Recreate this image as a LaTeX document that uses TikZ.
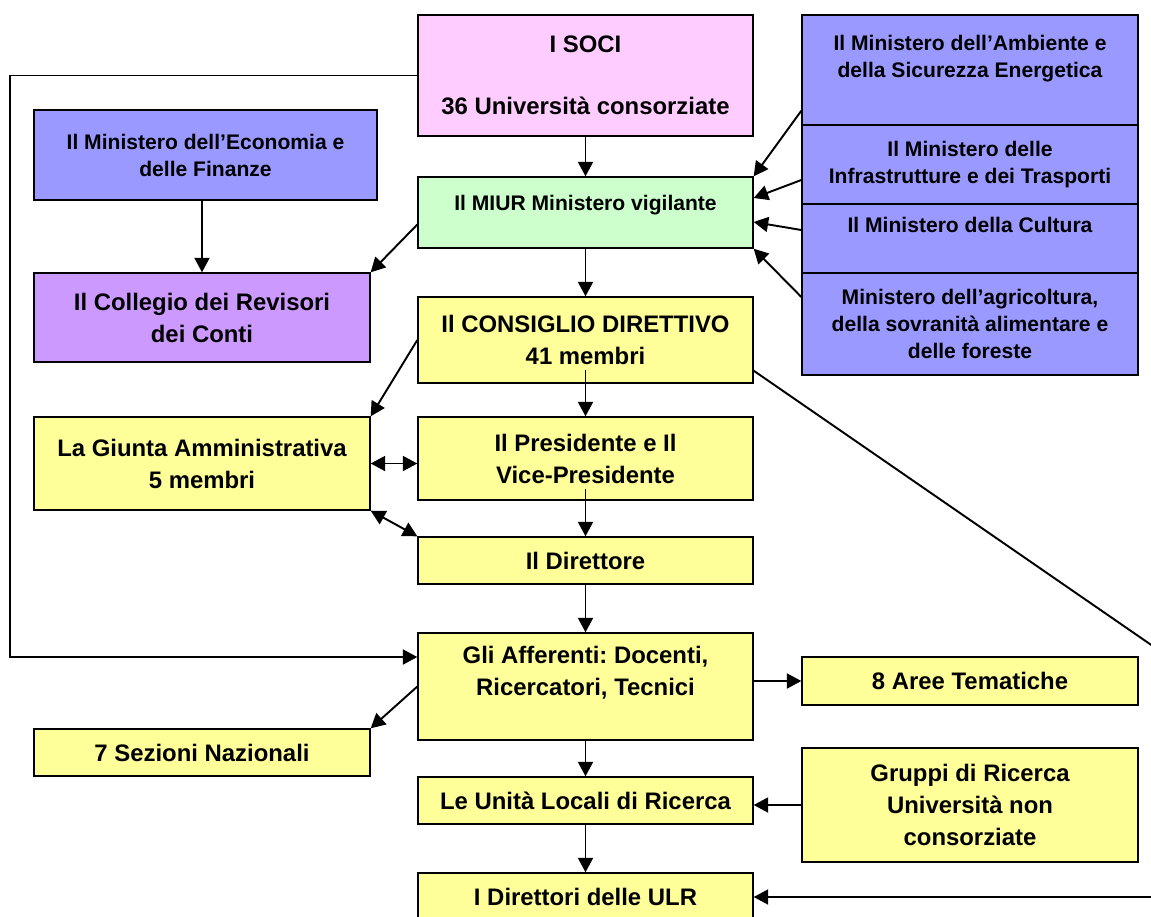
\documentclass[tikz,border=0pt]{standalone}
\usepackage{fontspec}
\setmainfont{Liberation Sans}
\usetikzlibrary{arrows.meta}
\frenchspacing

\begin{document}
\begin{tikzpicture}[x=0.02cm,y=-0.02cm,
  >={Triangle[length=0.29cm,width=0.3cm]},
  box/.style={draw=black,line width=0.8pt,minimum width=6.7cm,align=center,inner sep=2pt,
    font=\fontsize{13.6}{18.2}\selectfont\bfseries},
  minbox/.style={box,minimum width=6.72cm,fill=mblue,font=\fontsize{12}{15.4}\selectfont\bfseries},
  conn/.style={->,line width=1.1pt}]
\useasboundingbox (0,0) rectangle (1151,916);

% Box colours
\definecolor{mpink}{HTML}{FFCCFF}
\definecolor{mblue}{HTML}{9999FF}
\definecolor{mgreen}{HTML}{CCFFCC}
\definecolor{mlilac}{HTML}{CC99FF}
\definecolor{myell}{HTML}{FFFF99}

% Central column
\node[box,fill=mpink,minimum height=2.42cm] (soci) at (585.5,75.5) {I SOCI\\[17pt]36 Università consorziate};
\node[box,fill=mgreen,minimum height=1.42cm,font=\fontsize{12}{15.4}\selectfont\bfseries] (miur) at (585.5,212.5) {Il MIUR Ministero vigilante\\[-4pt]~};
\node[box,fill=myell,minimum height=1.72cm] (cons) at (585.5,340) {Il CONSIGLIO DIRETTIVO\\41 membri};
\node[box,fill=myell,minimum height=1.66cm] (pres) at (585.5,458.5) {Il Presidente e Il\\Vice-Presidente};
\node[box,fill=myell,minimum height=0.94cm] (dir) at (585.5,560.5) {Il Direttore};
\node[box,fill=myell,minimum height=2.14cm] (aff) at (585.5,686.5) {Gli Afferenti: Docenti,\\Ricercatori, Tecnici\\~};
\node[box,fill=myell,minimum height=0.94cm] (ulr) at (585.5,800.5) {Le Unità Locali di Ricerca};
\node[box,fill=myell,minimum height=0.96cm] (dulr) at (585.5,897) {I Direttori delle ULR};

% Left column
\node[minbox,minimum width=6.86cm,minimum height=1.8cm] (mef) at (205.5,155) {Il Ministero dell’Economia e\\delle Finanze};
\node[box,fill=mlilac,minimum width=6.72cm,minimum height=1.78cm] (coll) at (202,317.5) {Il Collegio dei Revisori\\dei Conti};
\node[box,fill=myell,minimum width=6.72cm,minimum height=1.86cm] (giunta) at (202,463.5) {La Giunta Amministrativa\\5 membri};
\node[box,fill=myell,minimum width=6.72cm,minimum height=0.94cm] (sez) at (202,752.5) {7 Sezioni Nazionali};

% Right column: the other ministries
\node[minbox,minimum height=2.2cm] (amb) at (970,70) {Il Ministero dell’Ambiente e\\della Sicurezza Energetica\\~};
\node[minbox,minimum height=1.58cm] (infr) at (970,164.5) {Il Ministero delle\\Infrastrutture e dei Trasporti};
\node[minbox,minimum height=1.38cm] (cult) at (970,238.5) {Il Ministero della Cultura\\~};
\node[minbox,minimum height=2.04cm] (agri) at (970,324) {Ministero dell’agricoltura,\\della sovranità alimentare e\\delle foreste};
\node[box,fill=myell,minimum width=6.72cm,minimum height=0.96cm] (aree) at (970,681) {8 Aree Tematiche};
\node[box,fill=myell,minimum width=6.72cm,minimum height=2.28cm] (grup) at (970,805) {Gruppi di Ricerca\\Università non\\consorziate};

% Connectors
\coordinate (lft) at (10,78);
\coordinate (rtop) at (1160,651);
\coordinate (rbot) at (1160,897);
\draw[conn] (soci.west) -- (soci.west -| lft) |- ([yshift=0.59cm]aff.west);
\draw[conn] (soci.south) -- (miur.north);
\draw[conn] (mef.south -| coll.north) -- (coll.north);
\draw[conn] ([yshift=-0.24cm]miur.west) -- (coll.north east);
\draw[conn] (miur.south) -- (cons.north);
\draw[conn] ([yshift=0.3cm]amb.south west) -- (miur.north east);
\draw[conn] ([yshift=-0.31cm]infr.west) -- ([yshift=0.29cm]miur.east);
\draw[conn] ([yshift=0.17cm]cult.west) -- ([yshift=-0.19cm]miur.east);
\draw[conn] ([yshift=0.54cm]agri.west) -- (miur.south east);
\draw[conn] (cons.west) -- (giunta.north east);
\draw[conn] ([yshift=0.28cm]cons.south) -- (pres.north);
\draw[<->,line width=1.1pt] (giunta.east) -- (giunta.east -| pres.west);
\draw[<->,line width=1.1pt] (giunta.south east) -- (dir.north west);
\draw[conn] ([yshift=0.24cm]pres.south) -- (dir.north);
\draw[conn] (dir.south) -- (aff.north);
\draw[line width=1.1pt] ([yshift=0.26cm]cons.south east) -- (rtop);
\draw[conn] (aff.west) -- (sez.north east);
\draw[conn] (aree.west -| aff.east) -- (aree.west);
\draw[conn] (aff.south) -- (ulr.north);
\draw[conn] (grup.west) -- (grup.west -| ulr.east);
\draw[conn] (ulr.south) -- (dulr.north);
\draw[conn] (rbot) -- (dulr.east);
\end{tikzpicture}
\end{document}
